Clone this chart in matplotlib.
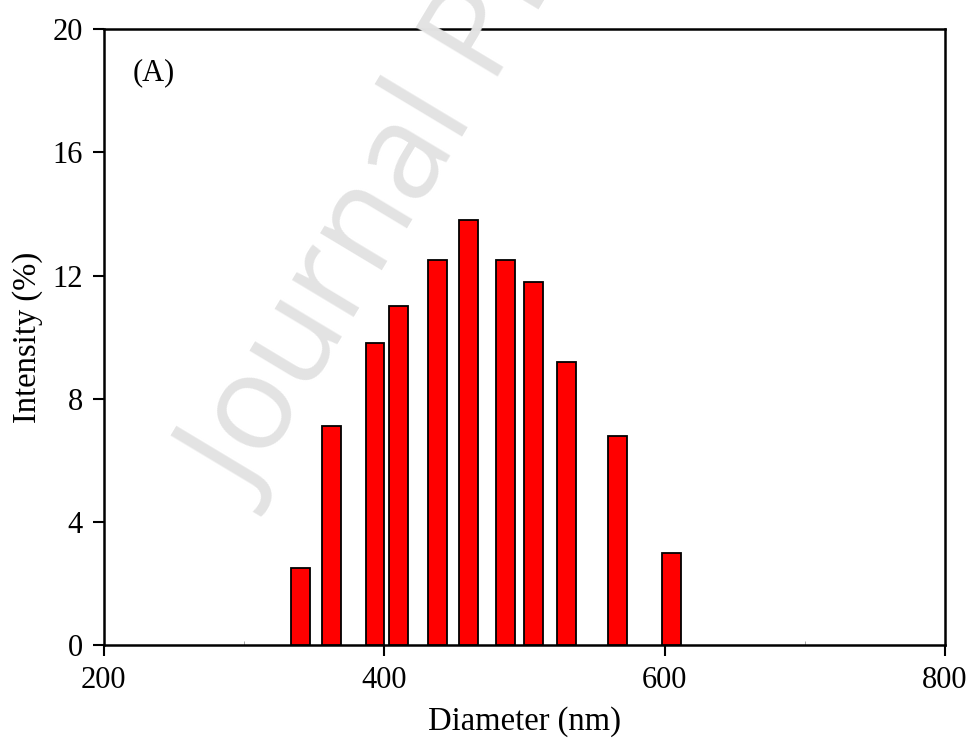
import numpy
from matplotlib import pyplot as plt
from matplotlib.ticker import MultipleLocator

# DLS size distribution
diameter = [340.5, 362.3, 393.5, 410.2, 438.2, 460.4, 486.4, 506.4, 530.4, 566.2, 604.9]
intensity = [2.5, 7.1, 9.8, 11.0, 12.5, 13.8, 12.5, 11.8, 9.2, 6.8, 3.0]

xTicks = [200, 400, 600, 800]
yTicks = [0, 4, 8, 12, 16, 20]

plt.rcParams['font.family'] = ['Liberation Serif', 'DejaVu Serif']

fig = plt.figure(figsize=(9.75, 7.38), dpi=100)
ax = fig.add_axes([0.1063, 0.126, 0.8629, 0.8343])

# watermark
fig.text(252 / 975, 1 - 505 / 738, 'Journal Pre-proof', family='Open Sans', fontsize=96,
         color='#e3e3e3', rotation=59, rotation_mode='anchor', ha='left', va='baseline', zorder=0)
ax.patch.set_alpha(0)

ax.bar(diameter, intensity, width=13.5, color='#ff0000', edgecolor='black', linewidth=1.3, zorder=3)

ax.set_xlim(200, 800)
ax.set_ylim(0, 20)
ax.set_xticks(xTicks)
ax.set_yticks(yTicks)
ax.xaxis.set_minor_locator(MultipleLocator(100))
ax.tick_params(which='major', direction='out', length=8, width=1.5, labelsize=22, pad=7)
ax.tick_params(which='minor', direction='in', length=3, width=0.6, color='#999999')
ax.tick_params(axis='y', which='minor', left=False)
for sp in ax.spines.values():
    sp.set_linewidth(1.8)

ax.set_xlabel('Diameter (nm)', fontsize=23.5, labelpad=8)
ax.set_ylabel('Intensity (%)', fontsize=23.5, labelpad=7)
ax.text(0.035, 0.918, '(A)', transform=ax.transAxes, fontsize=22, va='baseline')

fig.savefig('out.png', dpi=100)
